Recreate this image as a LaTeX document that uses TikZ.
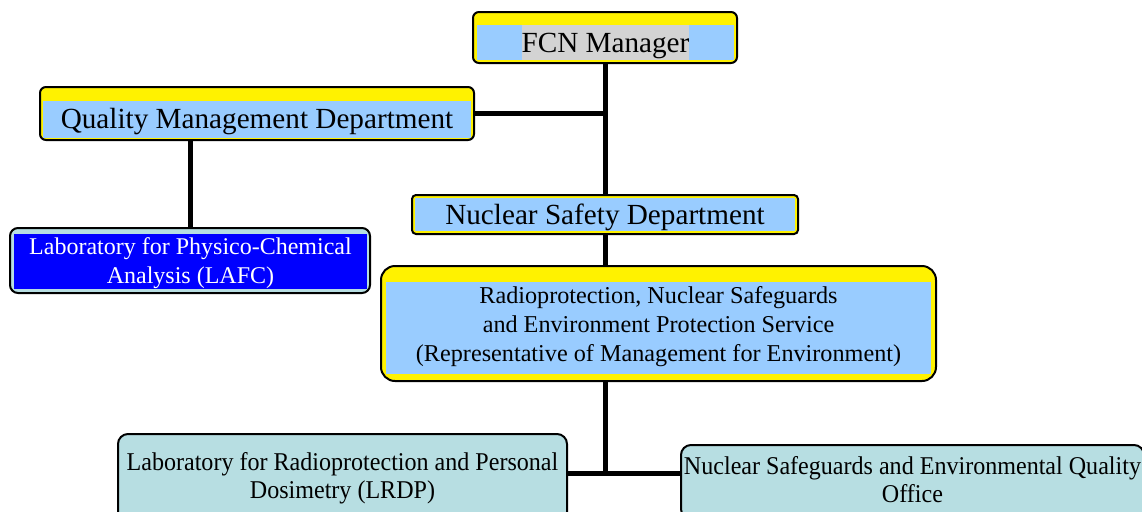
\documentclass[tikz,border=0pt]{standalone}
\usepackage{fontspec}
\setmainfont{Liberation Serif}
\newfontfamily\narrowfont[FakeStretch=0.94]{Liberation Serif}
\definecolor{bandblue}{RGB}{153,204,255}
\definecolor{labcyan}{RGB}{183,222,226}
\definecolor{labblue}{RGB}{0,0,255}
\definecolor{namegray}{RGB}{211,211,211}
\tikzset{
	boxframe/.style={draw, line width=1pt, fill=yellow, rounded corners=3pt, inner sep=0pt},
	band/.style={fill=bandblue, inner sep=0pt, align=center},
	labbox/.style={draw, line width=1pt, fill=labcyan, rounded corners=5pt, inner sep=0pt, align=center},
	textdrop/.style={text height=#1, text depth=0pt},
	link/.style={line width=2.5pt}
}
\begin{document}
\begin{tikzpicture}[x=0.5pt, y=-0.5pt]
			\useasboundingbox (0,0) rectangle (1142,511);
			\begin{scope}[every node/.style={boxframe}]
				\node (fcnframe)[minimum width=132pt, minimum height=25.5pt] at (605,37.5) {};
				\node (qmdframe)[minimum width=217pt, minimum height=26.5pt] at (257,113.5) {};
				\node (nsdframe)[minimum width=193pt, minimum height=19.5pt, rounded corners=2pt] at (605,214.5) {};
				\node (rnsframe)[minimum width=277.5pt, minimum height=57.5pt, rounded corners=7pt] at (658.5,323.5) {};
				\node (lafcframe)[minimum width=180pt, minimum height=32.5pt, fill=labcyan, rounded corners=4pt] at (190,260.5) {};
			\end{scope}
			\begin{scope}[every node/.style={band, font=\fontsize{14.6}{17}\selectfont}]
				\node (fcnband)[minimum width=128.5pt, minimum height=17.5pt] at (605.5,42.5) {};
				\node (fcn)[fill=namegray, minimum height=17.5pt, textdrop=9.5pt] at (605.5,42.5) {FCN Manager};
				\node (qmd)[minimum width=214pt, minimum height=18.5pt, textdrop=8.8pt] at (257,119.5) {Quality Management Department};
				\node (nsd)[minimum width=190pt, minimum height=16.5pt, textdrop=9.8pt] at (605,214.5) {Nuclear Safety Department};
				\node (rns)[minimum width=272.5pt, minimum height=46pt, textdrop=33pt, font=\fontsize{12.1}{14.3}\selectfont] at (658.5,328) {Radioprotection, Nuclear Safeguards\\and Environment Protection Service\\(Representative of Management for Environment)};
				\node (lafc)[minimum width=176.5pt, minimum height=27.5pt, textdrop=22pt, fill=labblue, text=white, font=\fontsize{12}{14.5}\selectfont] at (190.5,261.5) {Laboratory for Physico-Chemical\\Analysis (LAFC)};
			\end{scope}
			\begin{scope}[every node/.style={labbox, textdrop=20pt, font=\narrowfont\fontsize{12.8}{14}\selectfont}]
				\node (lrdp)[minimum width=224.5pt, minimum height=44pt] at (342.5,478) {Laboratory for Radioprotection and Personal\\Dosimetry (LRDP)};
				\node (nseqo)[minimum width=231.5pt, minimum height=37pt] at (912.5,482) {Nuclear Safeguards and Environmental Quality\\Office};
			\end{scope}
			\coordinate (junction) at (605,473);
			\begin{scope}[every path/.style={link}]
				\draw (fcnframe) -- (nsdframe);
				\draw (qmdframe) -- (qmdframe -| fcnframe);
				\draw (lafcframe) -- (lafcframe |- qmdframe.south);
				\draw (nsdframe) -- (nsdframe |- rnsframe.north);
				\draw (rnsframe.south -| junction) -- (junction);
				\draw (lrdp.east |- junction) -- (nseqo.west |- junction);
			\end{scope}
		\end{tikzpicture}
\end{document}
